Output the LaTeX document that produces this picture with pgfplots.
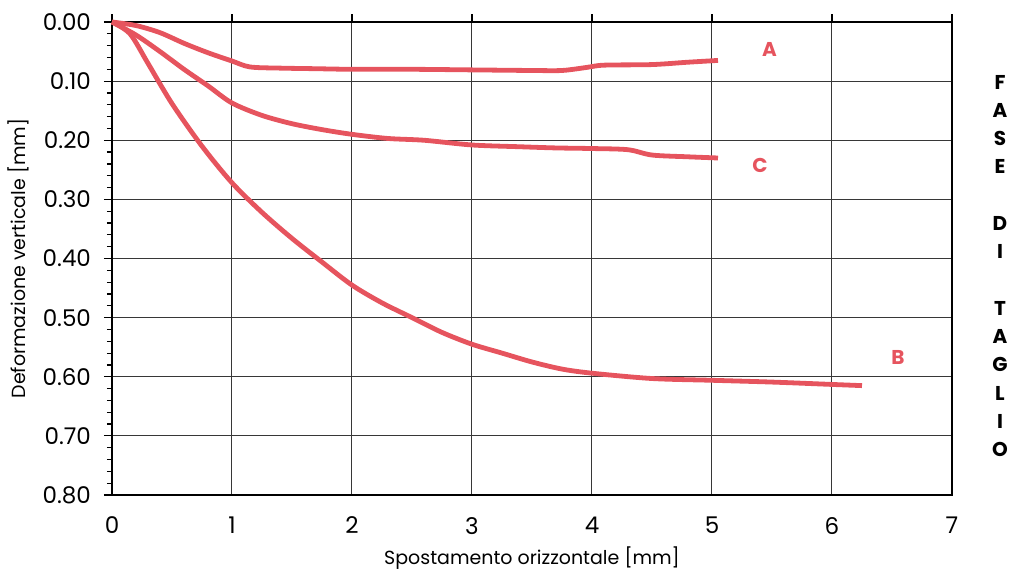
\documentclass[border=0pt]{standalone}
\usepackage{fontspec}
\setmainfont{Poppins}
\usepackage{pgfplots}
\pgfplotsset{compat=1.18}

\definecolor{curve}{RGB}{230,84,94}
\definecolor{gridc}{RGB}{55,55,55}

\begin{document}
\begin{tikzpicture}
\path[use as bounding box] (-56pt,-39pt) rectangle (458.5pt,247.5pt);
\begin{axis}[
  at={(0pt,0pt)}, anchor=south west,
  scale only axis,
  width=420pt, height=236.5pt,
  xmin=0, xmax=7, ymin=0, ymax=0.8,
  y dir=reverse,
  xtick={0,1,...,7},
  ytick={0,0.1,...,0.8},
  minor y tick num=4,
  xtick pos=upper, xticklabel pos=lower,
  ytick pos=left,
  tick align=outside,
  major tick length=4pt, minor tick length=2.5pt,
  every tick/.style={black, line width=0.6pt},
  grid=major,
  major grid style={gridc, line width=0.5pt},
  minor grid style={draw=none},
  axis line style={black, line width=1.4pt},
  /pgf/number format/assume math mode=true,
  xticklabel style={font=\fontsize{11.5}{13}\selectfont, yshift=-3.5pt},
  yticklabel style={font=\fontsize{11.5}{13}\selectfont},
  yticklabel={\pgfmathprintnumber[fixed,fixed zerofill,precision=2]{\tick}},
  xticklabel={\pgfmathprintnumber{\tick}},
  yticklabel shift=3pt,
  xlabel={Spostamento orizzontale [mm]},
  ylabel={Deformazione verticale [mm]},
  every axis x label/.style={at={(axis description cs:0.5,-0.133)}, anchor=center,
    font=\fontsize{9.5}{11}\selectfont},
  every axis y label/.style={at={(axis description cs:-0.112,0.5)}, anchor=center,
    rotate=90, font=\fontsize{9.5}{11}\selectfont},
  clip=false,
]
% Curve A
\addplot[curve, line width=2.4pt, smooth] coordinates {
  (0,0) (0.2,0.006) (0.4,0.018) (0.6,0.036) (0.8,0.052) (1.0,0.066)
  (1.15,0.076) (1.4,0.078) (1.7,0.079) (2.0,0.080) (2.5,0.080)
  (3.0,0.081) (3.5,0.082) (3.75,0.082) (3.95,0.077) (4.1,0.073)
  (4.5,0.072) (4.8,0.068) (5.05,0.065)
};
% Curve C
\addplot[curve, line width=2.4pt, smooth] coordinates {
  (0,0) (0.2,0.022) (0.4,0.05) (0.6,0.08) (0.8,0.108) (1.0,0.137)
  (1.25,0.158) (1.5,0.172) (1.75,0.182) (2.0,0.19) (2.3,0.197)
  (2.6,0.2) (3.0,0.208) (3.4,0.211) (3.7,0.213) (4.0,0.214)
  (4.3,0.216) (4.5,0.225) (4.8,0.228) (5.05,0.23)
};
% Curve B
\addplot[curve, line width=2.4pt, smooth] coordinates {
  (0,0) (0.15,0.02) (0.3,0.07) (0.5,0.138) (0.75,0.21) (1.0,0.272)
  (1.25,0.322) (1.5,0.366) (1.75,0.406) (2.0,0.445) (2.25,0.475)
  (2.5,0.5) (2.75,0.525) (3.0,0.545) (3.25,0.56) (3.5,0.575)
  (3.75,0.587) (4.0,0.594) (4.5,0.603) (5.0,0.606) (5.5,0.609)
  (6.0,0.613) (6.25,0.615)
};
\node[text=curve, font=\fontsize{10}{12}\selectfont\bfseries] at (axis cs:5.48,0.047) {A};
\node[text=curve, font=\fontsize{10}{12}\selectfont\bfseries] at (axis cs:5.4,0.242) {C};
\node[text=curve, font=\fontsize{10}{12}\selectfont\bfseries] at (axis cs:6.55,0.567) {B};
\end{axis}
\node[font=\fontsize{10}{14.15}\selectfont\bfseries, align=center] at (444pt,114.5pt)
  {F\\A\\S\\E\\[14.15pt]D\\I\\[14.15pt]T\\A\\G\\L\\I\\O};
\end{tikzpicture}
\end{document}
